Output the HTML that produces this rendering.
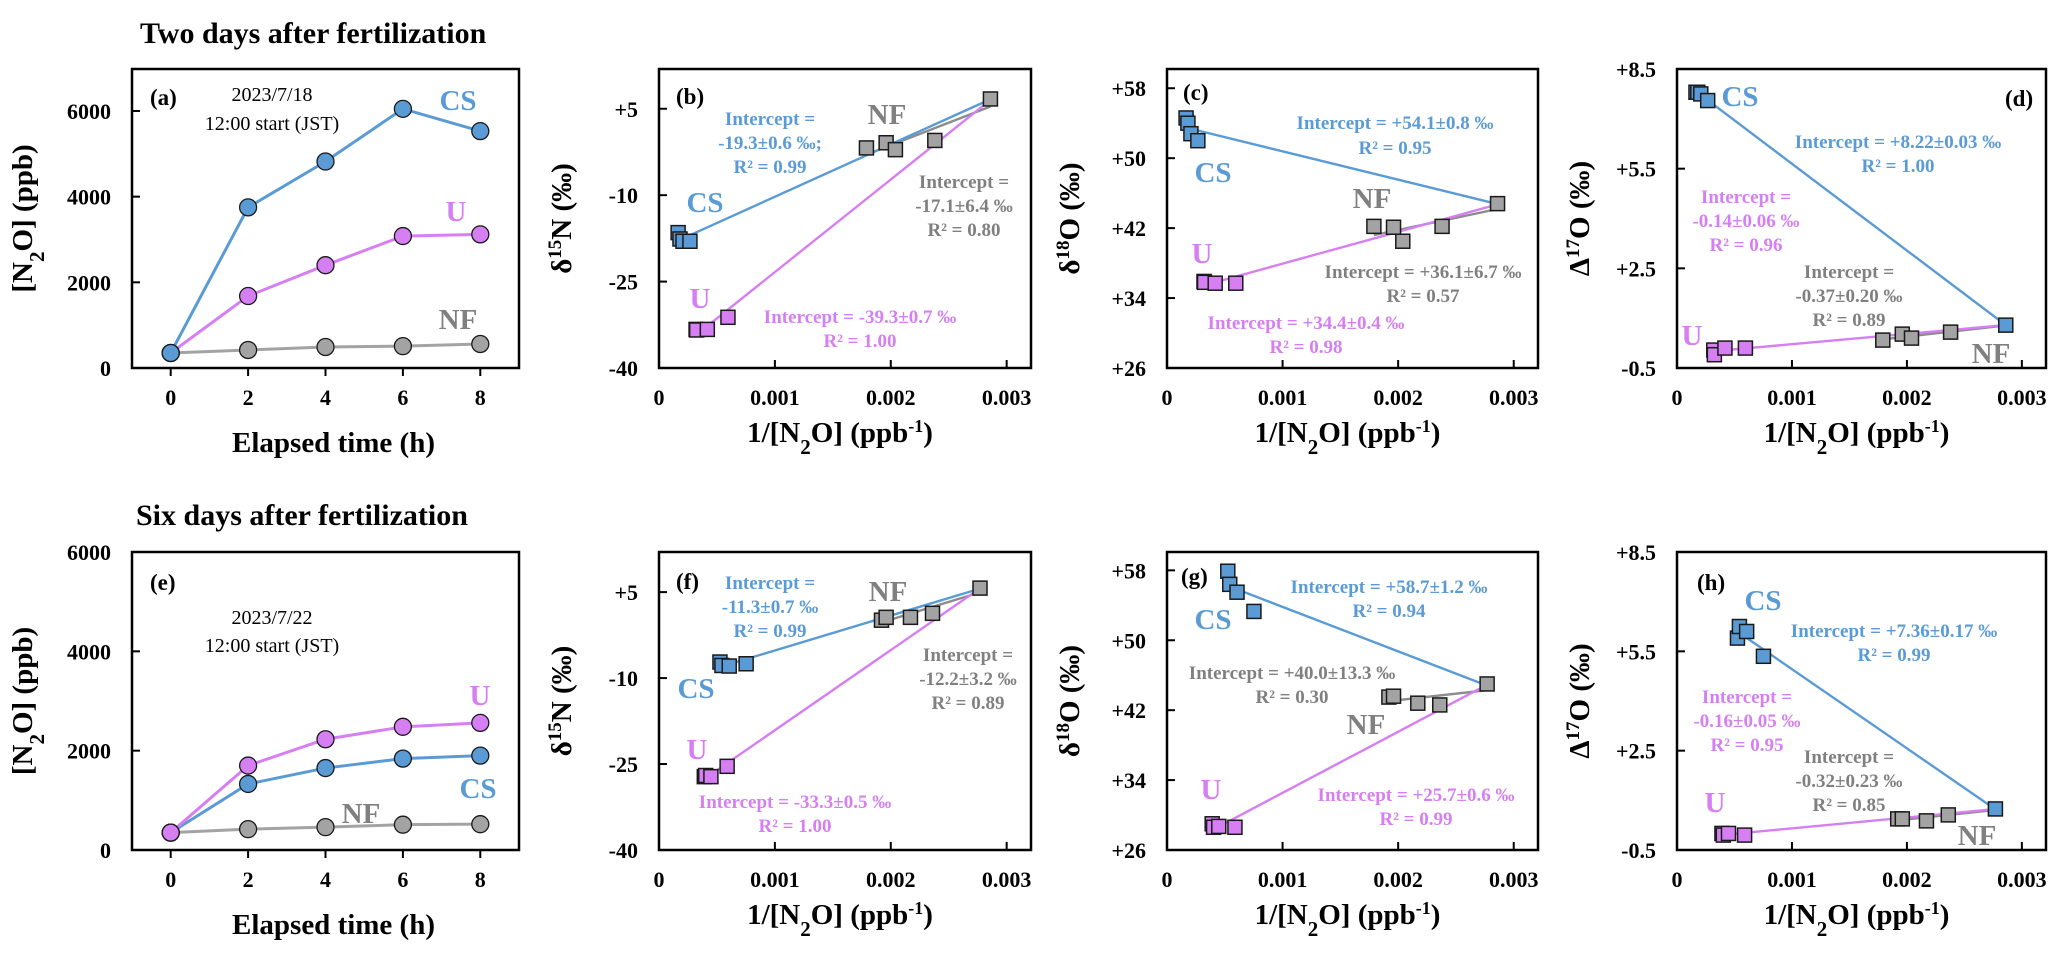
<!DOCTYPE html>
<html><head><meta charset="utf-8">
<style>
html,body{margin:0;padding:0;background:#fff;}
svg{display:block;font-family:"Liberation Serif",serif;}
.tk{font-size:22px;font-weight:bold;fill:#000;}
.ax{font-size:29px;font-weight:bold;fill:#000;}
.pl{font-size:23px;font-weight:bold;fill:#000;}
.an{font-size:19px;font-weight:bold;text-anchor:middle;}
.sl{font-size:29px;font-weight:bold;text-anchor:middle;}
.b{fill:#5b9bd5;} .m{fill:#d67ff2;} .g{fill:#808080;}
.dt{font-size:20px;fill:#000;text-anchor:middle;}
.ti{font-size:30px;font-weight:bold;fill:#000;}
</style></head>
<body>
<svg id="fig" width="2067" height="955" viewBox="0 0 2067 955" xmlns="http://www.w3.org/2000/svg">
<text class="ti" x="140" y="43">Two days after fertilization</text>
<text class="ti" x="136" y="525">Six days after fertilization</text>

<text class="pl" x="150" y="105">(a)</text>
<text class="dt" x="272" y="101">2023/7/18</text>
<text class="dt" x="272" y="130">12:00 start (JST)</text>
<text class="sl b" x="458" y="110">CS</text>
<text class="sl m" x="456" y="221">U</text>
<text class="sl g" x="458" y="329">NF</text>

<text class="pl" x="676" y="104">(b)</text>
<g class="an b"><text x="770" y="125">Intercept =</text><text x="770" y="149">-19.3±0.6 ‰;</text><text x="770" y="173">R² = 0.99</text></g>
<text class="sl g" x="887" y="124">NF</text>
<g class="an g"><text x="964" y="188">Intercept =</text><text x="964" y="212">-17.1±6.4 ‰</text><text x="964" y="236">R² = 0.80</text></g>
<text class="sl b" x="705" y="212">CS</text>
<text class="sl m" x="700" y="308">U</text>
<g class="an m"><text x="860" y="323">Intercept = -39.3±0.7 ‰</text><text x="860" y="347">R² = 1.00</text></g>

<text class="pl" x="1183" y="100">(c)</text>
<g class="an b"><text x="1395" y="129">Intercept = +54.1±0.8 ‰</text><text x="1395" y="154">R² = 0.95</text></g>
<text class="sl b" x="1213" y="182">CS</text>
<text class="sl g" x="1372" y="208">NF</text>
<g class="an g"><text x="1423" y="278">Intercept = +36.1±6.7 ‰</text><text x="1423" y="302">R² = 0.57</text></g>
<text class="sl m" x="1202" y="263">U</text>
<g class="an m"><text x="1306" y="329">Intercept = +34.4±0.4 ‰</text><text x="1306" y="353">R² = 0.98</text></g>

<text class="pl" x="2005" y="106">(d)</text>
<text class="sl b" x="1740" y="106">CS</text>
<g class="an b"><text x="1898" y="148">Intercept = +8.22±0.03 ‰</text><text x="1898" y="172">R² = 1.00</text></g>
<g class="an m"><text x="1746" y="203">Intercept =</text><text x="1746" y="227">-0.14±0.06 ‰</text><text x="1746" y="251">R² = 0.96</text></g>
<g class="an g"><text x="1849" y="278">Intercept =</text><text x="1849" y="302">-0.37±0.20 ‰</text><text x="1849" y="326">R² = 0.89</text></g>
<text class="sl m" x="1692" y="345">U</text>
<text class="sl g" x="1991" y="363">NF</text>

<text class="pl" x="150" y="590">(e)</text>
<text class="dt" x="272" y="624">2023/7/22</text>
<text class="dt" x="272" y="652">12:00 start (JST)</text>
<text class="sl m" x="480" y="705">U</text>
<text class="sl b" x="478" y="798">CS</text>
<text class="sl g" x="361" y="823">NF</text>

<text class="pl" x="676" y="589">(f)</text>
<g class="an b"><text x="770" y="589">Intercept =</text><text x="770" y="613">-11.3±0.7 ‰</text><text x="770" y="637">R² = 0.99</text></g>
<text class="sl g" x="888" y="601">NF</text>
<g class="an g"><text x="968" y="661">Intercept =</text><text x="968" y="685">-12.2±3.2 ‰</text><text x="968" y="709">R² = 0.89</text></g>
<text class="sl b" x="696" y="698">CS</text>
<text class="sl m" x="697" y="759">U</text>
<g class="an m"><text x="795" y="808">Intercept = -33.3±0.5 ‰</text><text x="795" y="832">R² = 1.00</text></g>

<text class="pl" x="1181" y="584">(g)</text>
<g class="an b"><text x="1389" y="593">Intercept = +58.7±1.2 ‰</text><text x="1389" y="617">R² = 0.94</text></g>
<text class="sl b" x="1213" y="629">CS</text>
<g class="an g"><text x="1292" y="679">Intercept = +40.0±13.3 ‰</text><text x="1292" y="703">R² = 0.30</text></g>
<text class="sl g" x="1366" y="734">NF</text>
<text class="sl m" x="1211" y="799">U</text>
<g class="an m"><text x="1416" y="801">Intercept = +25.7±0.6 ‰</text><text x="1416" y="825">R² = 0.99</text></g>

<text class="pl" x="1697" y="590">(h)</text>
<text class="sl b" x="1763" y="610">CS</text>
<g class="an b"><text x="1894" y="637">Intercept = +7.36±0.17 ‰</text><text x="1894" y="661">R² = 0.99</text></g>
<g class="an m"><text x="1747" y="703">Intercept =</text><text x="1747" y="727">-0.16±0.05 ‰</text><text x="1747" y="751">R² = 0.95</text></g>
<g class="an g"><text x="1849" y="763">Intercept =</text><text x="1849" y="787">-0.32±0.23 ‰</text><text x="1849" y="811">R² = 0.85</text></g>
<text class="sl m" x="1715" y="812">U</text>
<text class="sl g" x="1977" y="845">NF</text>
</svg>
<script>
const timeH = [0, 2, 4, 6, 8];
const aCS = [350, 3750, 4820, 6050, 5530];
const aU  = [350, 1680, 2400, 3080, 3120];
const aNF = [350, 420, 490, 510, 560];
const eU  = [350, 1700, 2230, 2480, 2560];
const eCS = [350, 1330, 1650, 1840, 1900];
const eNF = [350, 420, 460, 510, 520];
const timeTicks = [0, 2, 4, 6, 8];
const concTicks = [0, 2000, 4000, 6000];
const csX1 = [0.000165, 0.000181, 0.000207, 0.000267];
const uX1  = [0.00032, 0.000325, 0.000417, 0.000595];
const nfX1 = [0.00179, 0.00196, 0.00204, 0.00238];
const t0X1 = 0.00286;
const csX2 = [0.000526, 0.000543, 0.000606, 0.000752];
const uX2  = [0.000391, 0.000403, 0.000448, 0.000588];
const nfX2 = [0.00192, 0.00196, 0.00217, 0.00236];
const t0X2 = 0.00277;
const bCS = [-16.5, -17.6, -18.0, -18.0]; const bU = [-33.3, -33.4, -33.3, -31.2]; const bNF = [-1.8, -0.9, -2.1, -0.5]; const bT0 = 6.7;
const cCS = [54.6, 54.0, 52.8, 52.0]; const cU = [35.9, 35.8, 35.7, 35.7]; const cNF = [42.2, 42.1, 40.5, 42.2]; const cT0 = 44.8;
const dCS = [7.8, 7.8, 7.75, 7.55]; const dU = [0.04, -0.1, 0.1, 0.1]; const dNF = [0.34, 0.52, 0.40, 0.58]; const dT0 = 0.79;
const fCS = [-7.2, -7.8, -7.9, -7.5]; const fU = [-27.2, -27.0, -27.2, -25.4]; const fNF = [0.1, 0.6, 0.6, 1.3]; const fT0 = 5.7;
const gCS = [57.9, 56.4, 55.5, 53.3]; const gU = [29.0, 28.6, 28.7, 28.6]; const gNF = [43.5, 43.6, 42.8, 42.6]; const gT0 = 45.0;
const hCS = [5.9, 6.25, 6.1, 5.35]; const hU = [0.0, -0.05, 0.0, -0.05]; const hNF = [0.44, 0.44, 0.38, 0.56]; const hT0 = 0.74;
const invTicks = [0, 0.001, 0.002, 0.003];
const invTickLabels = ["0", "0.001", "0.002", "0.003"];
const d15Ticks = [5, -10, -25, -40];
const d15Labels = ["+5", "-10", "-25", "-40"];
const d18Ticks = [58, 50, 42, 34, 26];
const d18Labels = ["+58", "+50", "+42", "+34", "+26"];
const D17Ticks = [8.5, 5.5, 2.5, -0.5];
const D17Labels = ["+8.5", "+5.5", "+2.5", "-0.5"];

const NS = "http://www.w3.org/2000/svg";
const svg = document.getElementById("fig");
const BLUE = "#5b9bd5", MAG = "#d67ff2", GRAY = "#a3a3a3", LGRAY = "#8c8c8c";
function mk(tag, attrs, parent) {
  const e = document.createElementNS(NS, tag);
  for (const k in attrs) e.setAttribute(k, attrs[k]);
  (parent || svg).appendChild(e);
  return e;
}
function scale(d0, d1, r0, r1) { return v => r0 + (v - d0) / (d1 - d0) * (r1 - r0); }

function frame(p, name) {
  const g = mk("g", {});
  
  
  mk("rect", { x: p.x0, y: p.y0, width: p.x1 - p.x0, height: p.y1 - p.y0, fill: "none", stroke: "#000", "stroke-width": 2.5 }, g);
  return g;
}
function axes(p, g, xs, ys, xt, xl, yt, yl, inward) {
  xt.forEach((v, i) => {
    const x = xs(v);
    if (inward) mk("line", { x1: x, x2: x, y1: p.y1, y2: p.y1 - 8, stroke: "#000", "stroke-width": 2 }, g);
    else mk("line", { x1: x, x2: x, y1: p.y1, y2: p.y1 + 8, stroke: "#000", "stroke-width": 2 }, g);
    const t = mk("text", { x: x, y: p.y1 + 37, class: "tk", "text-anchor": "middle" }, g);
    t.textContent = xl[i];
    
    
  });
  yt.forEach((v, i) => {
    const y = ys(v);
    mk("line", { x1: p.x0, x2: p.x0 + 8, y1: y, y2: y, stroke: "#000", "stroke-width": 2 }, g);
    const t = mk("text", { x: p.x0 - 21, y: y + 8, class: "tk", "text-anchor": "end" }, g);
    t.textContent = yl[i];
    
    
  });
}
function ytitle(x, y, html, name) {
  const t = mk("text", { x: x, y: y, class: "ax", "text-anchor": "middle", transform: "rotate(-90 " + x + " " + y + ")" });
  t.innerHTML = html;
  
  
}
function xtitle(x, y, html, name) {
  const t = mk("text", { x: x, y: y, class: "ax", "text-anchor": "middle" });
  t.innerHTML = html;
  
  
}

function timePanel(p, series, name) {
  const xs = scale(-1, 9, p.x0, p.x1), ys = scale(0, p.ymax, p.y1, p.y0);
  const g = frame(p, name);
  axes(p, g, xs, ys, timeTicks, timeTicks.map(String), concTicks, concTicks.map(String), false);
  series.forEach(s => {
    const pts = timeH.map((t, i) => xs(t) + "," + ys(s.v[i])).join(" ");
    const pl = mk("polyline", { points: pts, fill: "none", stroke: s.line, "stroke-width": 3 });
    
    
  });
  series.forEach(s => {
    timeH.forEach((t, i) => {
      const c = mk("circle", { cx: xs(t), cy: ys(s.v[i]), r: 8.5, fill: s.fill, stroke: "#1a1a1a", "stroke-width": 1.3 });
      
      
    });
  });
  ytitle(p.x0 - 100, (p.y0 + p.y1) / 2, '[N<tspan baseline-shift="sub" font-size="21">2</tspan>O] (ppb)', name + '-y-axis-title');
  xtitle((p.x0 + p.x1) / 2 + 8, p.y1 + 84, 'Elapsed time (h)', name + '-x-axis-title');
}

function fit(xs, ys) {
  const n = xs.length; let sx = 0, sy = 0, sxx = 0, sxy = 0;
  for (let i = 0; i < n; i++) { sx += xs[i]; sy += ys[i]; sxx += xs[i] * xs[i]; sxy += xs[i] * ys[i]; }
  const b = (n * sxy - sx * sy) / (n * sxx - sx * sx);
  return { b: b, a: (sy - b * sx) / n };
}

function keeling(p, sets, t0x, t0y, yt, yl, ytHtml, name) {
  const xs = scale(0, 0.00321, p.x0, p.x1), ys = scale(p.ymin, p.ymax, p.y1, p.y0);
  const g = frame(p, name);
  axes(p, g, xs, ys, invTicks.slice(1), invTickLabels.slice(1), yt, yl, true);
  const z = mk("text", { x: p.x0, y: p.y1 + 37, class: "tk", "text-anchor": "middle" }, g);
  z.textContent = invTickLabels[0];
  
  
  sets.forEach(s => {
    const X = s.x.concat([t0x]), Y = s.y.concat([t0y]);
    const f = fit(X, Y);
    const xa = Math.min.apply(null, X), xb = Math.max.apply(null, X);
    const l = mk("line", { x1: xs(xa), y1: ys(f.a + f.b * xa), x2: xs(xb), y2: ys(f.a + f.b * xb), stroke: s.line, "stroke-width": 2.4 });
    
    
  });
  const S = 14;
  sets.forEach(s => {
    s.x.forEach((xv, i) => {
      const r = mk("rect", { x: xs(xv) - S / 2, y: ys(s.y[i]) - S / 2, width: S, height: S, fill: s.fill, stroke: "#1a1a1a", "stroke-width": 1.5 });
      
      
    });
  });
  const r0 = mk("rect", { x: xs(t0x) - S / 2, y: ys(t0y) - S / 2, width: S, height: S, fill: p.t0fill, stroke: "#1a1a1a", "stroke-width": 1.5 });
  
  
  ytitle(p.x0 - 88, (p.y0 + p.y1) / 2, ytHtml, name + '-y-axis-title');
  xtitle((p.x0 + p.x1) / 2 - 5, p.y1 + 74, '1/[N<tspan baseline-shift="sub" font-size="21">2</tspan>O] (ppb<tspan baseline-shift="super" font-size="18">-1</tspan>)', name + '-x-axis-title');
}

const R1 = { y0: 69, y1: 368 }, R2 = { y0: 552, y1: 850 };
const COLS = [[132, 519], [659, 1031], [1167, 1538], [1677, 2046]];
function P(c, r, extra) { return Object.assign({ x0: COLS[c][0], x1: COLS[c][1], y0: r.y0, y1: r.y1 }, extra); }
const d15 = 'δ<tspan baseline-shift="super" font-size="19">15</tspan>N (‰)';
const d18 = 'δ<tspan baseline-shift="super" font-size="19">18</tspan>O (‰)';
const D17 = 'Δ<tspan baseline-shift="super" font-size="19">17</tspan>O (‰)';

timePanel(P(0, R1, { ymax: 6980 }), [
  { id: "nf", v: aNF, line: GRAY, fill: GRAY }, { id: "u", v: aU, line: MAG, fill: MAG }, { id: "cs", v: aCS, line: BLUE, fill: BLUE }], "panel-a");
timePanel(P(0, R2, { ymax: 6000 }), [
  { id: "nf", v: eNF, line: GRAY, fill: GRAY }, { id: "cs", v: eCS, line: BLUE, fill: BLUE }, { id: "u", v: eU, line: MAG, fill: MAG }], "panel-e");

function sets(cs, u, nf, X) {
  return [{ id: "nf", x: X.nf, y: nf, line: LGRAY, fill: GRAY },
          { id: "cs", x: X.cs, y: cs, line: BLUE, fill: BLUE },
          { id: "u", x: X.u, y: u, line: MAG, fill: MAG }];
}
const X1 = { cs: csX1, u: uX1, nf: nfX1 }, X2 = { cs: csX2, u: uX2, nf: nfX2 };
keeling(P(1, R1, { ymin: -40, ymax: 11.9, t0fill: GRAY }), sets(bCS, bU, bNF, X1), t0X1, bT0, d15Ticks, d15Labels, d15, "panel-b");
keeling(P(2, R1, { ymin: 26, ymax: 60.2, t0fill: GRAY }), sets(cCS, cU, cNF, X1), t0X1, cT0, d18Ticks, d18Labels, d18, "panel-c");
keeling(P(3, R1, { ymin: -0.5, ymax: 8.5, t0fill: BLUE }), sets(dCS, dU, dNF, X1), t0X1, dT0, D17Ticks, D17Labels, D17, "panel-d");
keeling(P(1, R2, { ymin: -40, ymax: 12, t0fill: GRAY }), sets(fCS, fU, fNF, X2), t0X2, fT0, d15Ticks, d15Labels, d15, "panel-f");
keeling(P(2, R2, { ymin: 26, ymax: 60.1, t0fill: GRAY }), sets(gCS, gU, gNF, X2), t0X2, gT0, d18Ticks, d18Labels, d18, "panel-g");
keeling(P(3, R2, { ymin: -0.5, ymax: 8.5, t0fill: BLUE }), sets(hCS, hU, hNF, X2), t0X2, hT0, D17Ticks, D17Labels, D17, "panel-h");
Array.from(svg.querySelectorAll(':scope > text.sl, :scope > g.an, :scope > text.pl, :scope > text.dt')).forEach(n => svg.appendChild(n));
</script>
</body></html>
